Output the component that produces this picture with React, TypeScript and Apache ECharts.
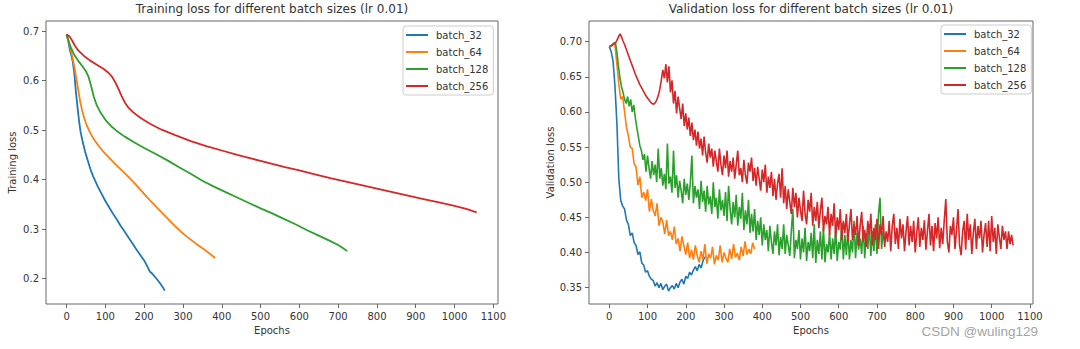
import { useEffect, useRef } from "react";
import * as echarts from "echarts";

const FONT = "DejaVu Sans";
const seriesNames = ["batch_32", "batch_64", "batch_128", "batch_256"];
const colors = ["#1f77b4", "#ff7f0e", "#2ca02c", "#d62728"];
const xTicks = [0, 100, 200, 300, 400, 500, 600, 700, 800, 900, 1000, 1100];
const trainYTicks = [0.2, 0.3, 0.4, 0.5, 0.6, 0.7];
const valYTicks = [0.35, 0.4, 0.45, 0.5, 0.55, 0.6, 0.65, 0.7];

// Training loss (epoch, loss)
const train32Ep = [0, 4, 8, 12, 16, 20, 24, 28, 32, 36, 42, 48, 55, 62, 70, 80, 90, 100, 110, 120, 130, 140, 150, 160, 170, 180, 190, 200, 210, 215, 220, 230, 240, 248, 253];
const train32Loss = [0.693, 0.682, 0.664, 0.652, 0.638, 0.615, 0.578, 0.548, 0.52, 0.497, 0.475, 0.456, 0.438, 0.42, 0.404, 0.387, 0.372, 0.357, 0.344, 0.331, 0.319, 0.306, 0.295, 0.283, 0.271, 0.259, 0.248, 0.237, 0.222, 0.214, 0.211, 0.202, 0.192, 0.183, 0.176];

const train64Ep = [0, 5, 10, 15, 20, 25, 30, 35, 40, 46, 53, 60, 70, 80, 90, 100, 115, 130, 145, 160, 175, 190, 205, 220, 235, 250, 265, 280, 295, 310, 325, 340, 355, 370, 383];
const train64Loss = [0.693, 0.68, 0.665, 0.648, 0.628, 0.605, 0.582, 0.558, 0.54, 0.523, 0.508, 0.496, 0.482, 0.471, 0.461, 0.452, 0.44, 0.428, 0.417, 0.405, 0.393, 0.38, 0.367, 0.354, 0.342, 0.33, 0.318, 0.306, 0.295, 0.285, 0.276, 0.267, 0.259, 0.25, 0.242];

const train128Ep = [0, 6, 12, 20, 30, 40, 50, 57, 63, 70, 78, 88, 100, 115, 130, 150, 175, 200, 230, 260, 290, 320, 350, 380, 410, 440, 470, 500, 530, 560, 590, 620, 650, 680, 700, 710, 723];
const train128Loss = [0.693, 0.678, 0.665, 0.652, 0.64, 0.63, 0.619, 0.607, 0.59, 0.568, 0.55, 0.535, 0.521, 0.508, 0.498, 0.487, 0.475, 0.464, 0.452, 0.439, 0.425, 0.412, 0.398, 0.386, 0.375, 0.364, 0.353, 0.342, 0.332, 0.321, 0.31, 0.298, 0.287, 0.276, 0.268, 0.263, 0.256];

const train256Ep = [0, 8, 15, 22, 30, 45, 60, 80, 95, 108, 118, 126, 134, 142, 150, 160, 172, 190, 215, 245, 280, 320, 360, 400, 440, 480, 520, 560, 600, 640, 680, 720, 760, 800, 840, 880, 920, 960, 1000, 1030, 1057];
const train256Loss = [0.693, 0.689, 0.68, 0.67, 0.661, 0.65, 0.641, 0.631, 0.624, 0.616, 0.607, 0.596, 0.583, 0.569, 0.556, 0.545, 0.536, 0.525, 0.513, 0.501, 0.49, 0.478, 0.468, 0.459, 0.45, 0.442, 0.434, 0.426, 0.419, 0.411, 0.403, 0.396, 0.389, 0.382, 0.375, 0.368, 0.361, 0.354, 0.347, 0.341, 0.334];

// Validation loss, sampled every `step` epochs starting at epoch 0
const val32Step = 5;
const val32Loss = [
  0.693, 0.686, 0.672, 0.636, 0.583, 0.505, 0.474, 0.466, 0.462, 0.446,
  0.44, 0.424, 0.428, 0.414, 0.41, 0.397, 0.401, 0.385, 0.382, 0.372,
  0.374, 0.366, 0.362, 0.36, 0.352, 0.357, 0.35, 0.356, 0.347, 0.352,
  0.355, 0.345, 0.35, 0.353, 0.348, 0.356, 0.35, 0.358, 0.362, 0.355,
  0.366, 0.363, 0.372, 0.368, 0.375, 0.38, 0.374, 0.383, 0.378, 0.388,
  0.394,
];

const val64Step = 5;
const val64Loss = [
  0.693, 0.694, 0.697, 0.695, 0.668, 0.64, 0.618, 0.622, 0.6, 0.578,
  0.566, 0.55, 0.548, 0.526, 0.522, 0.496, 0.508, 0.478, 0.486, 0.474,
  0.49, 0.458, 0.476, 0.46, 0.452, 0.47, 0.438, 0.45, 0.444, 0.426,
  0.446, 0.424, 0.43, 0.418, 0.437, 0.412, 0.42, 0.402, 0.423, 0.41,
  0.397, 0.414, 0.392, 0.404, 0.39, 0.41, 0.396, 0.386, 0.402, 0.39,
  0.412, 0.384, 0.398, 0.392, 0.408, 0.383, 0.396, 0.389, 0.41, 0.386,
  0.4, 0.392, 0.386, 0.405, 0.391, 0.412, 0.393, 0.399, 0.389, 0.408,
  0.395, 0.416, 0.397, 0.405, 0.398, 0.414, 0.405,
];

const val128Step = 4;
const val128Loss = [
  0.693, 0.694, 0.696, 0.698, 0.699, 0.685, 0.665, 0.648, 0.636, 0.628,
  0.618, 0.612, 0.622, 0.608, 0.618, 0.6, 0.61, 0.592, 0.578, 0.565,
  0.552, 0.545, 0.532, 0.54,
  0.515, 0.538, 0.52, 0.505, 0.53, 0.51, 0.525, 0.5, 0.548, 0.505,
  0.52, 0.495, 0.512, 0.49, 0.555, 0.498, 0.508, 0.485, 0.545, 0.492,
  0.51, 0.478, 0.502, 0.488, 0.47, 0.505, 0.482, 0.498, 0.475, 0.5,
  0.538, 0.47, 0.495, 0.478, 0.49, 0.462, 0.502, 0.472, 0.488, 0.458,
  0.495, 0.468, 0.48, 0.455, 0.5, 0.465, 0.478, 0.448, 0.49, 0.46,
  0.475, 0.452, 0.486, 0.445, 0.495, 0.462, 0.44, 0.472, 0.45, 0.482,
  0.438, 0.465, 0.448, 0.485, 0.432, 0.46, 0.44, 0.475, 0.428, 0.455,
  0.43, 0.462, 0.418, 0.445, 0.425, 0.45, 0.41, 0.44, 0.418, 0.432,
  0.402, 0.438, 0.415, 0.398, 0.43, 0.41, 0.44, 0.396, 0.422, 0.405,
  0.44, 0.398, 0.425, 0.41, 0.395, 0.43, 0.462, 0.392, 0.418, 0.405,
  0.432, 0.39, 0.42, 0.4, 0.435, 0.388, 0.415, 0.402, 0.428, 0.392,
  0.44, 0.385, 0.418, 0.398, 0.43, 0.39, 0.435, 0.386, 0.412, 0.4,
  0.428, 0.39, 0.42, 0.398, 0.435, 0.388, 0.415, 0.404, 0.442, 0.39,
  0.425, 0.396, 0.432, 0.39, 0.418, 0.4, 0.445, 0.392, 0.428, 0.404,
  0.42, 0.398, 0.438, 0.392, 0.428, 0.405, 0.44, 0.395, 0.43, 0.402,
  0.44, 0.398, 0.455, 0.478, 0.405, 0.43, 0.415,
];

const val256Step = 4;
const val256Loss = [
  0.693, 0.694, 0.695, 0.697, 0.698, 0.702, 0.707, 0.711, 0.707, 0.701,
  0.696, 0.69, 0.684, 0.678, 0.672, 0.666, 0.66, 0.654, 0.649, 0.644,
  0.639, 0.635, 0.631, 0.627, 0.623, 0.62, 0.617, 0.614, 0.612, 0.611,
  0.613, 0.617, 0.623, 0.632, 0.645, 0.66, 0.648, 0.668,
  0.642, 0.665, 0.628, 0.645, 0.612, 0.63, 0.598, 0.622, 0.605, 0.59,
  0.612, 0.58, 0.598, 0.575, 0.592, 0.566, 0.585, 0.56, 0.575, 0.552,
  0.572, 0.548, 0.562, 0.538, 0.565, 0.542, 0.528, 0.555, 0.535, 0.548,
  0.522, 0.545, 0.53, 0.515, 0.548, 0.525, 0.51, 0.538, 0.52, 0.545,
  0.508, 0.53, 0.515, 0.535, 0.505, 0.525, 0.545, 0.51, 0.52, 0.5,
  0.532, 0.51, 0.498, 0.528, 0.515, 0.535, 0.502, 0.52, 0.495, 0.522,
  0.505, 0.488, 0.518, 0.5, 0.525, 0.485, 0.508, 0.492, 0.515, 0.48,
  0.505, 0.475, 0.498, 0.512, 0.478, 0.52, 0.47, 0.495, 0.462, 0.49,
  0.472, 0.455, 0.492, 0.465, 0.485, 0.45, 0.478, 0.46, 0.445, 0.488,
  0.455, 0.44, 0.475, 0.458, 0.485, 0.438, 0.465, 0.445, 0.472, 0.435,
  0.46, 0.478, 0.43, 0.452, 0.44, 0.465, 0.425, 0.455, 0.438, 0.47,
  0.422, 0.45, 0.432, 0.462, 0.418, 0.445, 0.428, 0.455, 0.415, 0.44,
  0.462, 0.418, 0.44, 0.425, 0.452, 0.41, 0.438, 0.458, 0.415, 0.432,
  0.408, 0.445, 0.425, 0.455, 0.41, 0.435, 0.418, 0.448, 0.405, 0.44,
  0.425, 0.452, 0.408, 0.43, 0.415, 0.445, 0.402, 0.438, 0.455, 0.412,
  0.435, 0.405, 0.448, 0.42, 0.44, 0.402, 0.43, 0.452, 0.41, 0.438,
  0.415, 0.445, 0.4, 0.428, 0.45, 0.408, 0.435, 0.418, 0.446, 0.404,
  0.43, 0.455, 0.41, 0.438, 0.402, 0.442, 0.42, 0.45, 0.406, 0.435,
  0.412, 0.446, 0.476, 0.415, 0.4, 0.438, 0.425, 0.45, 0.405, 0.432,
  0.462, 0.41, 0.396, 0.43, 0.445, 0.404, 0.455, 0.418, 0.44, 0.398,
  0.428, 0.448, 0.405, 0.438, 0.42, 0.445, 0.4, 0.425, 0.442, 0.408,
  0.445, 0.402, 0.452, 0.415, 0.435, 0.398, 0.44, 0.422, 0.405, 0.438,
  0.418, 0.43, 0.405, 0.43, 0.412, 0.425, 0.41,
];

const pairs = (ep: number[], v: number[]) => ep.map((e, i) => [e, v[i]]);
const stepped = (step: number, v: number[]) => v.map((y, i) => [i * step, y]);

const axisColor = "#666";
const textColor = "#333";

function makeXAxis(gridIndex: number, min: number, max: number) {
  return {
    type: "value", gridIndex, min, max,
    name: "Epochs", nameLocation: "middle", nameGap: 21,
    nameTextStyle: { fontFamily: FONT, fontSize: 10, color: textColor },
    axisLine: { show: false, onZero: false },
    axisTick: { show: true, length: 4, lineStyle: { color: axisColor }, customValues: xTicks },
    axisLabel: { fontFamily: FONT, fontSize: 10, color: textColor, margin: 7, customValues: xTicks, formatter: (v: number) => String(v) },
    splitLine: { show: false },
  };
}

function makeYAxis(gridIndex: number, min: number, max: number, name: string, ticks: number[], digits: number, gap: number) {
  return {
    type: "value", gridIndex, min, max,
    name, nameLocation: "middle", nameGap: gap,
    nameTextStyle: { fontFamily: FONT, fontSize: 10, color: textColor },
    axisLine: { show: false, onZero: false },
    axisTick: { show: true, length: 4, lineStyle: { color: axisColor }, customValues: ticks },
    axisLabel: { fontFamily: FONT, fontSize: 10, color: textColor, margin: 7, customValues: ticks, formatter: (v: number) => v.toFixed(digits) },
    splitLine: { show: false },
  };
}

function makeLegend(left: number, top: number) {
  return {
    data: seriesNames, orient: "vertical", left, top,
    icon: "rect",
    itemWidth: 22, itemHeight: 2, itemGap: 7,
    padding: [4, 5, 4, 3],
    borderColor: "#ccc", borderWidth: 1, borderRadius: 3,
    backgroundColor: "rgba(255,255,255,0.8)",
    textStyle: { fontFamily: FONT, fontSize: 10, color: textColor, padding: [0, 0, 0, 3] },
  };
}

function line(name: string, color: string, data: number[][], gi: number, width: number) {
  return {
    type: "line", name, data, xAxisIndex: gi, yAxisIndex: gi,
    symbol: "none", showSymbol: false,
    lineStyle: { color, width }, itemStyle: { color },
  };
}

export default function App() {
  const ref = useRef<HTMLDivElement>(null);
  useEffect(() => {
    document.body.style.margin = "0";
    const chart = echarts.init(ref.current!, null, { renderer: "svg" });
    chart.setOption({
      animation: false,
      backgroundColor: "#fff",
      title: [
        { text: "Training loss for different batch sizes (lr 0.01)", left: 272, top: 3, textAlign: "center", padding: 0,
          textStyle: { fontFamily: FONT, fontSize: 12, fontWeight: "normal", color: textColor } },
        { text: "Validation loss for different batch sizes (lr 0.01)", left: 811, top: 3, textAlign: "center", padding: 0,
          textStyle: { fontFamily: FONT, fontSize: 12, fontWeight: "normal", color: textColor } },
      ],
      grid: [
        { left: 46, width: 452, top: 21, height: 283, show: true, borderColor: axisColor, borderWidth: 1, backgroundColor: "transparent" },
        { left: 589, width: 444, top: 21, height: 283, show: true, borderColor: axisColor, borderWidth: 1, backgroundColor: "transparent" },
      ],
      xAxis: [makeXAxis(0, -53, 1112), makeXAxis(1, -53, 1108)],
      yAxis: [
        makeYAxis(0, 0.149, 0.7205, "Training loss", trainYTicks, 1, 29),
        makeYAxis(1, 0.3267, 0.7295, "Validation loss", valYTicks, 2, 34),
      ],
      legend: [makeLegend(403, 26), makeLegend(941, 25)],
      series: [
        line(seriesNames[0], colors[0], pairs(train32Ep, train32Loss), 0, 1.8),
        line(seriesNames[1], colors[1], pairs(train64Ep, train64Loss), 0, 1.8),
        line(seriesNames[2], colors[2], pairs(train128Ep, train128Loss), 0, 1.8),
        line(seriesNames[3], colors[3], pairs(train256Ep, train256Loss), 0, 1.8),
        line(seriesNames[0], colors[0], stepped(val32Step, val32Loss), 1, 1.6),
        line(seriesNames[1], colors[1], stepped(val64Step, val64Loss), 1, 1.6),
        line(seriesNames[2], colors[2], stepped(val128Step, val128Loss), 1, 1.6),
        line(seriesNames[3], colors[3], stepped(val256Step, val256Loss), 1, 1.6),
      ],
      graphic: [
        { type: "text", right: 42, top: 324, style: { text: "CSDN @wuling129", fontFamily: "Liberation Sans", fontSize: 13.5, fill: "#a3a3a3" } },
      ],
    });
    return () => chart.dispose();
  }, []);
  return <div ref={ref} style={{ width: 1080, height: 349 }} />;
}
